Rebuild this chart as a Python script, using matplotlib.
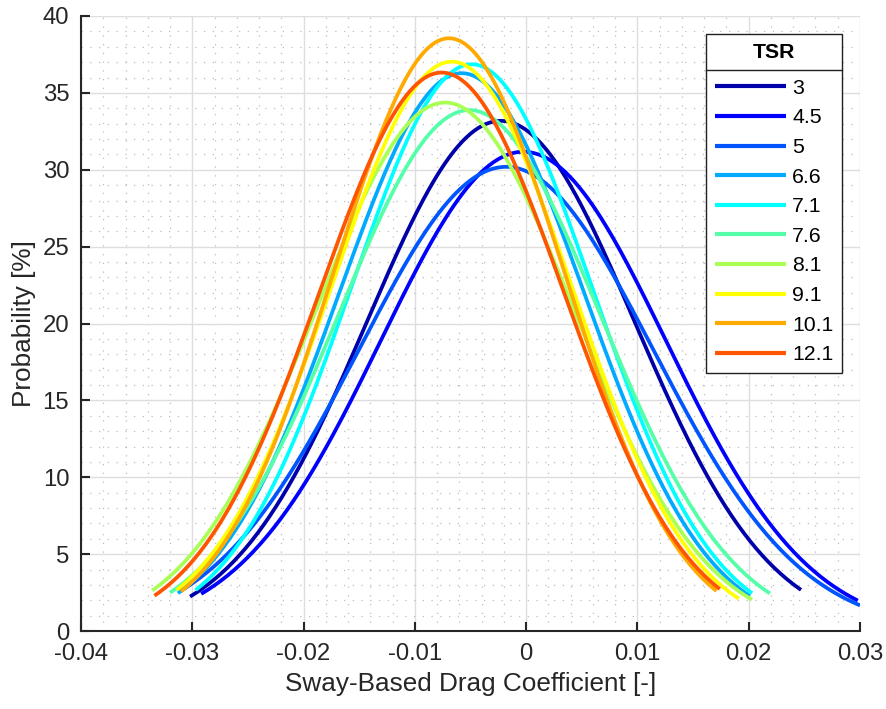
import numpy as np
import matplotlib
matplotlib.use("Agg")
import matplotlib.pyplot as plt
from matplotlib.ticker import MultipleLocator
from matplotlib.lines import Line2D

plt.rcParams['font.family'] = ['Liberation Sans', 'DejaVu Sans']

# fitted normal distributions, one per TSR
tsr = ["3", "4.5", "5", "6.6", "7.1", "7.6", "8.1", "9.1", "10.1", "12.1"]
mean_cd = [-0.00228, -0.00025, -0.0018, -0.00579, -0.00489, -0.0051, -0.00729, -0.00669, -0.00693, -0.00759]
peak_pct = [33.18, 31.17, 30.19, 36.28, 36.86, 33.88, 34.37, 37.03, 38.55, 36.32]
x_min = [-0.0302, -0.0292, -0.0312, -0.0313, -0.0297, -0.0320, -0.0336, -0.0314, -0.0310, -0.0334]
x_max = [0.0247, 0.0298, 0.0300, 0.0201, 0.0203, 0.0219, 0.0203, 0.0191, 0.0171, 0.0174]

# jet(10)
colors = ["#0000aa", "#0000ff", "#0055ff", "#00aaff", "#00ffff",
          "#55ffaa", "#aaff55", "#ffff00", "#ffaa00", "#ff5500"]

txt = "#262626"

fig = plt.figure(figsize=(8.86, 7.09), dpi=100)
ax = fig.add_axes([81 / 886, 1 - 631 / 709, 779 / 886, 615 / 709])

for i in range(len(tsr)):
    sigma = 1 / (peak_pct[i] * np.sqrt(2 * np.pi))
    x = np.linspace(x_min[i], x_max[i], 300)
    y = peak_pct[i] * np.exp(-0.5 * ((x - mean_cd[i]) / sigma) ** 2)
    ax.plot(x, y, color=colors[i], lw=2.7, label=tsr[i], solid_capstyle='butt')

ax.set_xlim(-0.04, 0.03)
ax.set_ylim(0, 40)
ax.xaxis.set_minor_locator(MultipleLocator(0.002))
ax.yaxis.set_major_locator(MultipleLocator(5))
ax.yaxis.set_minor_locator(MultipleLocator(1))
ax.set_xticks(np.arange(-0.04, 0.031, 0.01))
ax.set_xticklabels(["-0.04", "-0.03", "-0.02", "-0.01", "0", "0.01", "0.02", "0.03"])

ax.grid(True, which='major', color='#dedede', lw=1.0)
ax.grid(True, which='minor', color='#bdbdbd', lw=0.9, linestyle=(0, (1, 6)))
ax.set_axisbelow(True)

for s in ['top', 'right']:
    ax.spines[s].set_visible(False)
for s in ['left', 'bottom']:
    ax.spines[s].set_color(txt)
    ax.spines[s].set_linewidth(1.5)

ax.tick_params(which='major', direction='in', length=6.5, width=1.5, color=txt,
               labelsize=17.2, labelcolor=txt, pad=8.5)
ax.tick_params(which='minor', length=0)

ax.set_xlabel("Sway-Based Drag Coefficient [-]", fontsize=18.8, color=txt, labelpad=5)
ax.set_ylabel("Probability [%]", fontsize=18.8, color=txt, labelpad=4.5)

leg = ax.legend(title="TSR", loc='upper left',
                bbox_to_anchor=(706 / 886, 1 - 34 / 709), bbox_transform=fig.transFigure,
                fontsize=15.3, title_fontproperties={'size': 15.3, 'weight': 'bold'},
                handlelength=3.35, handletextpad=0.3, labelspacing=0.5,
                borderpad=0.4, borderaxespad=0, fancybox=False, framealpha=1)
leg.get_frame().set_edgecolor('#202020')
leg.get_frame().set_linewidth(1.0)
for h in leg.get_lines():
    h.set_linewidth(3)
# more room between the title and the entries
leg._legend_box.sep = 12.4

# separator line under legend title
fig.canvas.draw()
lb = leg.get_window_extent()
tb = leg.get_title().get_window_extent()
ysep = tb.y0 - 8
fig.add_artist(Line2D([lb.x0 / 886, lb.x1 / 886], [ysep / 709, ysep / 709],
                      transform=fig.transFigure, color='#202020', lw=1.0))

fig.savefig("out.png", dpi=100)
